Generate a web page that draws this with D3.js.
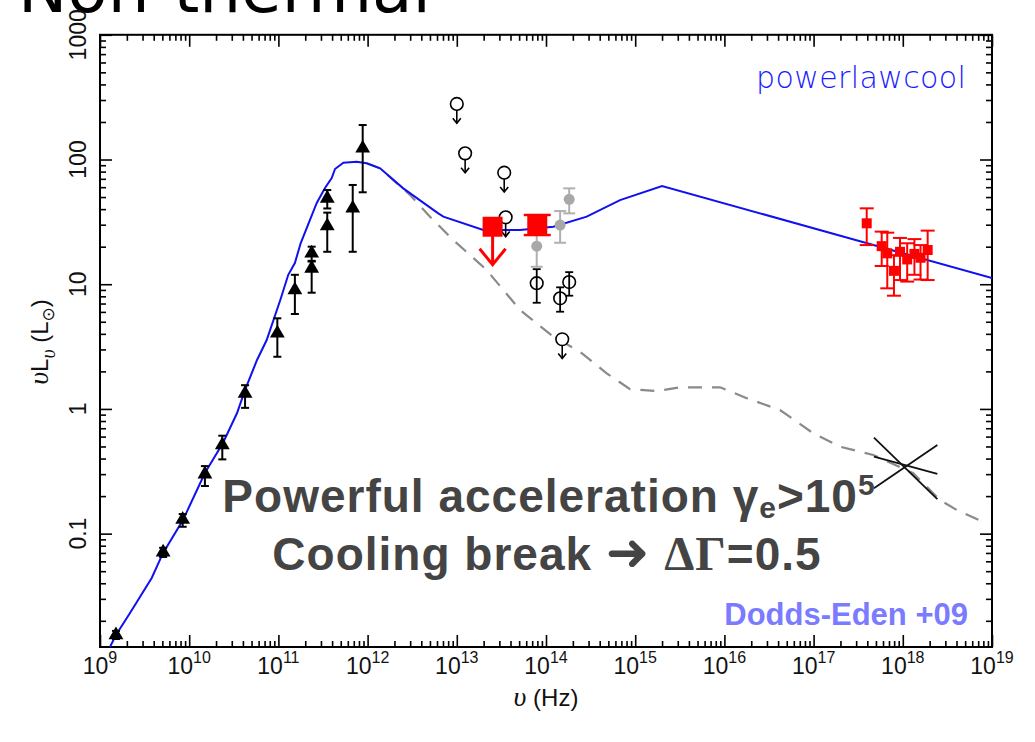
<!DOCTYPE html>
<html>
<head>
<meta charset="utf-8">
<script src="https://cdn.jsdelivr.net/npm/d3@7"></script>
<style>
  body { margin: 0; background: #fff; }
  svg { display: block; }
</style>
</head>
<body>
<svg id="chart" width="1035" height="742"></svg>
<script>
// ---- Spectral energy distribution data (nu in Hz, nuL_nu in L_sun) ----

// Radio / submm detections (filled triangles)
const radioNu = [1.51e9, 5.1e9, 8.45e9, 1.50e10, 2.35e10, 4.23e10, 9.73e10, 1.53e11, 2.36e11, 2.36e11, 3.53e11, 3.53e11, 6.81e11, 8.81e11];
const radioL  = [0.0154, 0.0708, 0.130, 0.30, 0.513, 1.33, 4.04, 8.98, 17.7, 13.4, 48.8, 29.3, 40.6, 123];
const radioLo = [0.0143, 0.065, 0.1135, 0.241, 0.394, 1.02, 2.62, 5.77, 15.2, 8.55, 40.5, 18.2, 18.2, 54.6];
const radioHi = [0.0166, 0.077, 0.1435, 0.348, 0.61, 1.55, 5.33, 11.9, 20.0, 15.4, 56.9, 37.5, 62.5, 189];

// Infrared upper limits (open circles with arrows)
const irLimNu = [1.0e13, 1.24e13, 3.40e13, 3.53e13, 1.52e14];
const irLimL  = [279, 112, 78.4, 34.4, 3.62];

// Infrared quiescent detections (open circles)
const irNu = [7.87e13, 1.44e14, 1.82e14];
const irL  = [10.2, 7.71, 10.4];
const irLo = [7.1, 6.02, 8.09];
const irHi = [13.2, 9.44, 12.5];

// Infrared flare points (grey circles)
const flareNu = [7.87e13, 1.44e14, 1.82e14];
const flareL  = [20.2, 29.8, 47.9];
const flareLo = [13.8, 21.5, 37.0];
const flareHi = [25.0, 38.6, 58.7];

// Simultaneous flare points (large red squares); first is an upper limit
const simNu = [2.52e13, 7.98e13];
const simL  = [28.9, 29.8];
const simLo = [null, 24.8];
const simHi = [null, 35.9];
const simIsLimit = [true, false];

// X-ray flare spectrum (small red squares)
const xrayNu = [3.94e17, 5.80e17, 6.70e17, 7.96e17, 9.30e17, 1.12e18, 1.35e18, 1.58e18, 1.90e18];
const xrayL  = [30.8, 20.2, 17.7, 12.8, 18.2, 15.8, 17.5, 16.3, 18.8];
const xrayLo = [20.6, 14.0, 9.27, 8.09, 10.8, 10.5, 11.9, 10.9, 10.8];
const xrayHi = [40.6, 26.4, 25.9, 17.1, 23.5, 21.3, 23.0, 20.6, 26.9];

// Synchrotron model with cooling break (blue line)
const modelNu = [1.29e9, 1.51e9, 2.17e9, 3.80e9, 5.08e9, 8.51e9, 1.50e10, 2.39e10, 3.44e10, 4.23e10, 5.76e10, 7.39e10, 1.05e11, 1.29e11, 1.53e11, 1.78e11, 2.69e11, 3.33e11, 3.96e11, 4.31e11, 5.35e11, 7.55e11, 9.77e11, 1.38e12, 2.51e12, 6.20e12, 7.07e12, 1.98e13, 5.12e13, 1.21e14, 2.86e14, 6.76e14, 2.0e15, 1e19];
const modelL  = [0.0123, 0.0154, 0.0231, 0.0441, 0.0698, 0.1285, 0.306, 0.533, 0.927, 1.42, 2.47, 3.57, 7.47, 11.9, 14.8, 21.4, 44.8, 59.1, 71.1, 83.9, 94.3, 96.0, 93.2, 85.0, 58.7, 37.0, 34.8, 27.2, 27.2, 28.9, 34.8, 47.3, 61.3, 11.2];

// Quiescent model (grey dashed line)
const quietNu = [9.77e11, 1.38e12, 2.99e12, 5.01e12, 9.14e12, 2.16e13, 5.12e13, 1.21e14, 2.40e14, 4.79e14, 8.74e14, 1.74e15, 3.18e15, 8.93e15, 1.78e16, 4.20e16, 9.93e16, 1.98e17, 4.67e17, 1.31e18, 2.61e18, 4.02e18, 8.36e18];
const quietL  = [93.2, 85.0, 51.9, 34.8, 22.6, 13.0, 6.21, 3.79, 2.88, 1.93, 1.44, 1.39, 1.49, 1.49, 1.22, 0.98, 0.637, 0.498, 0.427, 0.305, 0.186, 0.155, 0.122];

// Quiescent X-ray bow tie: three slopes through a pivot
const bowNu = [4.75e17, 2.44e18];
const bowLeftL  = [0.588, 0.414, 0.231];
const bowRightL = [0.189, 0.301, 0.513];

// Axis ticks
const xExponents = [9, 10, 11, 12, 13, 14, 15, 16, 17, 18, 19];
const yTickValues = [0.1, 1, 10, 100, 1000];
const yTickLabels = ["0.1", "1", "10", "100", "1000"];

// ---- Layout ----
const svg = d3.select("#chart");
const pL = 100, pR = 992, pT = 34.8, pB = 647;

const x = d3.scaleLog().domain([1e9, 1e19]).range([pL, pR]);
const y = d3.scaleLog().domain([Math.pow(10, -1.909), 1000]).range([pB, pT]);

// Slide heading, largely cut off at the top edge
svg.append("text")
  .attr("x", 18).attr("y", 12)
  .attr("font-family", "DejaVu Sans, Verdana, sans-serif")
  .attr("font-size", 66)
  .attr("fill", "#000")
  .text("Non-thermal");

svg.append("clipPath").attr("id", "plotClip")
  .append("rect").attr("x", pL).attr("y", pT).attr("width", pR - pL).attr("height", pB - pT);

// ---- Axes (inward ticks on all four sides) ----
const majorX = xExponents.map(e => Math.pow(10, e));
const minorX = [];
xExponents.slice(0, -1).forEach(e => { for (let k = 2; k <= 9; k++) minorX.push(k * Math.pow(10, e)); });
const yDom = y.domain();
const minorY = [];
for (let e = -2; e <= 2; e++) for (let k = 2; k <= 9; k++) {
  const v = k * Math.pow(10, e);
  if (v >= yDom[0] && v <= yDom[1]) minorY.push(v);
}

function styleAxis(g) {
  g.select(".domain").remove();
  g.selectAll(".tick line").attr("stroke", "#000").attr("stroke-width", 1.6);
  g.selectAll(".tick text").remove();
}

const axes = svg.append("g");
[[majorX, 12], [minorX, 6]].forEach(([vals, len]) => {
  axes.append("g").attr("transform", `translate(0,${pB})`)
    .call(d3.axisBottom(x).tickValues(vals).tickSizeInner(-len).tickSizeOuter(0)).call(styleAxis);
  axes.append("g").attr("transform", `translate(0,${pT})`)
    .call(d3.axisTop(x).tickValues(vals).tickSizeInner(-len).tickSizeOuter(0)).call(styleAxis);
});
[[yTickValues, 12], [minorY, 6]].forEach(([vals, len]) => {
  axes.append("g").attr("transform", `translate(${pL},0)`)
    .call(d3.axisLeft(y).tickValues(vals).tickSizeInner(-len).tickSizeOuter(0)).call(styleAxis);
  axes.append("g").attr("transform", `translate(${pR},0)`)
    .call(d3.axisRight(y).tickValues(vals).tickSizeInner(-len).tickSizeOuter(0)).call(styleAxis);
});

svg.append("rect")
  .attr("x", pL).attr("y", pT).attr("width", pR - pL).attr("height", pB - pT)
  .attr("fill", "none").attr("stroke", "#000").attr("stroke-width", 2);

// x tick labels: 10^n
const tickFont = "Liberation Sans, Arial, sans-serif";
const xl = svg.append("g").attr("font-family", tickFont).attr("fill", "#111");
xExponents.forEach(e => {
  const t = xl.append("text").attr("x", x(Math.pow(10, e))).attr("y", 674)
    .attr("text-anchor", "middle").attr("font-size", 23);
  t.append("tspan").text("10");
  t.append("tspan").attr("dy", -11).attr("font-size", 16).text(e);
});

// y tick labels, rotated
yTickValues.forEach((v, i) => {
  svg.append("text")
    .attr("transform", `translate(86,${y(v)}) rotate(-90)`)
    .attr("text-anchor", "middle")
    .attr("font-family", tickFont).attr("font-size", 23).attr("fill", "#111")
    .text(yTickLabels[i]);
});

// Axis titles
const xt = svg.append("text").attr("x", 546).attr("y", 706)
  .attr("text-anchor", "middle").attr("font-family", tickFont).attr("font-size", 24).attr("fill", "#111");
xt.append("tspan").attr("font-family", "Liberation Serif, serif").attr("font-style", "italic").attr("font-size", 28).text("υ");
xt.append("tspan").text("  (Hz)");

const yt = svg.append("text").attr("transform", "translate(48,342) rotate(-90)")
  .attr("text-anchor", "middle").attr("font-family", tickFont).attr("font-size", 24).attr("fill", "#111");
yt.append("tspan").attr("font-family", "Liberation Serif, serif").attr("font-style", "italic").attr("font-size", 28).text("υ");
yt.append("tspan").text("L");
yt.append("tspan").attr("dy", 7).attr("font-family", "Liberation Serif, serif").attr("font-style", "italic").attr("font-size", 20).text("υ");
yt.append("tspan").attr("dy", -7).text("  (L");
yt.append("tspan").attr("dy", 6).attr("font-family", "DejaVu Sans, sans-serif").attr("font-size", 17).text("⊙");
yt.append("tspan").attr("dy", -6).text(")");

// ---- Curves ----
const plot = svg.append("g").attr("clip-path", "url(#plotClip)");
const line = d3.line().x(d => x(d[0])).y(d => y(d[1]));

plot.append("path")
  .datum(quietNu.map((n, i) => [n, quietL[i]]))
  .attr("d", line).attr("fill", "none")
  .attr("stroke", "#8a8a8a").attr("stroke-width", 2.2).attr("stroke-dasharray", "14,10");

plot.append("path")
  .datum(modelNu.map((n, i) => [n, modelL[i]]))
  .attr("d", line).attr("fill", "none")
  .attr("stroke", "#1010f0").attr("stroke-width", 2);

// Bow tie
bowLeftL.forEach((l, i) => {
  plot.append("line")
    .attr("x1", x(bowNu[0])).attr("y1", y(l))
    .attr("x2", x(bowNu[1])).attr("y2", y(bowRightL[i]))
    .attr("stroke", "#111").attr("stroke-width", 1.8);
});

// ---- Helpers ----
function errorBars(g, nu, lo, hi, color, capW, width) {
  nu.forEach((n, i) => {
    if (lo[i] == null) return;
    const cx = x(n);
    g.append("line").attr("x1", cx).attr("x2", cx).attr("y1", y(lo[i])).attr("y2", y(hi[i]))
      .attr("stroke", color).attr("stroke-width", width);
    [lo[i], hi[i]].forEach(v => {
      g.append("line").attr("x1", cx - capW / 2).attr("x2", cx + capW / 2).attr("y1", y(v)).attr("y2", y(v))
        .attr("stroke", color).attr("stroke-width", width);
    });
  });
}

function downArrow(g, cx, y0, len, half, head, color, width) {
  g.append("line").attr("x1", cx).attr("x2", cx).attr("y1", y0).attr("y2", y0 + len)
    .attr("stroke", color).attr("stroke-width", width);
  g.append("path")
    .attr("d", `M${cx - half},${y0 + len - head}L${cx},${y0 + len}L${cx + half},${y0 + len - head}`)
    .attr("fill", "none").attr("stroke", color).attr("stroke-width", width);
}

const marks = svg.append("g");

// Grey flare points
errorBars(marks, flareNu, flareLo, flareHi, "#b0b0b0", 12, 2);
flareNu.forEach((n, i) => {
  marks.append("circle").attr("cx", x(n)).attr("cy", y(flareL[i])).attr("r", 5.5).attr("fill", "#a8a8a8");
});

// Open circles with errors
errorBars(marks, irNu, irLo, irHi, "#000", 8, 1.8);
irNu.forEach((n, i) => {
  marks.append("circle").attr("cx", x(n)).attr("cy", y(irL[i])).attr("r", 6.3)
    .attr("fill", "none").attr("stroke", "#000").attr("stroke-width", 1.6);
});

// Upper limits
irLimNu.forEach((n, i) => {
  const cx = x(n), cy = y(irLimL[i]);
  marks.append("circle").attr("cx", cx).attr("cy", cy).attr("r", 6.3)
    .attr("fill", "#fff").attr("stroke", "#000").attr("stroke-width", 1.6);
  downArrow(marks, cx, cy + 6.3, 13, 4, 5, "#000", 1.6);
});

// Radio triangles
errorBars(marks, radioNu, radioLo, radioHi, "#000", 8, 2);
const tri = d3.symbol().type(d3.symbolTriangle).size(95);
radioNu.forEach((n, i) => {
  marks.append("path").attr("d", tri).attr("transform", `translate(${x(n)},${y(radioL[i])})`).attr("fill", "#000");
});

// Simultaneous red squares
errorBars(marks, simNu, simLo, simHi, "#ff0000", 27, 2.5);
const bigSq = d3.symbol().type(d3.symbolSquare).size(400);
simNu.forEach((n, i) => {
  const cx = x(n), cy = y(simL[i]);
  if (simIsLimit[i]) downArrow(marks, cx, cy, 38, 13, 16, "#ff0000", 3);
  marks.append("path").attr("d", bigSq).attr("transform", `translate(${cx},${cy})`).attr("fill", "#ff0000");
});

// X-ray spectrum
errorBars(marks, xrayNu, xrayLo, xrayHi, "#ff0000", 14, 2);
const smSq = d3.symbol().type(d3.symbolSquare).size(100);
xrayNu.forEach((n, i) => {
  marks.append("path").attr("d", smSq).attr("transform", `translate(${x(n)},${y(xrayL[i])})`).attr("fill", "#ff0000");
});

// ---- Annotations ----
svg.append("text").attr("x", 756).attr("y", 88)
  .attr("font-family", "DejaVu Sans, Verdana, sans-serif").attr("font-weight", 200).attr("font-size", 30)
  .attr("letter-spacing", 0.4)
  .attr("fill", "#1a1aff").text("powerlawcool");

const boldFont = "Liberation Sans, Arial, sans-serif";
const l1 = svg.append("text").attr("x", 549).attr("y", 512).attr("text-anchor", "middle")
  .attr("font-family", boldFont).attr("font-weight", "bold").attr("font-size", 46)
  .attr("letter-spacing", 1).attr("fill", "#444");
l1.append("tspan").text("Powerful acceleration ");
l1.append("tspan").text("γ");
l1.append("tspan").attr("dy", 6).attr("font-size", 30).text("e");
l1.append("tspan").attr("dy", -6).text(">10");
l1.append("tspan").attr("dy", -17).attr("font-size", 30).text("5");

const l2 = svg.append("text").attr("x", 547).attr("y", 570).attr("text-anchor", "middle")
  .attr("font-family", boldFont).attr("font-weight", "bold").attr("font-size", 46)
  .attr("letter-spacing", 1).attr("fill", "#444");
l2.append("tspan").text("Cooling break ");
l2.append("tspan").attr("font-family", "DejaVu Sans, sans-serif").attr("font-size", 52).text("➜");
l2.append("tspan").text(" ");
l2.append("tspan").attr("font-family", "Liberation Serif, serif").attr("font-size", 48).text("ΔΓ");
l2.append("tspan").text("=0.5");

svg.append("text").attr("x", 968).attr("y", 625).attr("text-anchor", "end")
  .attr("font-family", boldFont).attr("font-weight", "bold").attr("font-size", 31)
  .attr("fill", "#7b7bff").text("Dodds-Eden +09");
</script>
</body>
</html>
